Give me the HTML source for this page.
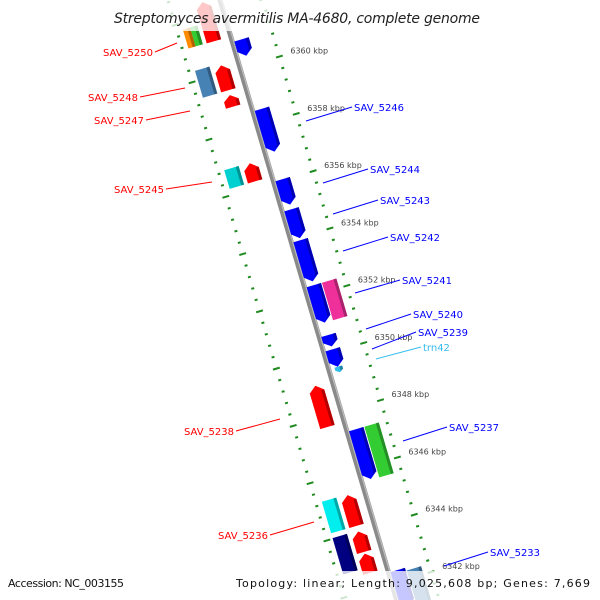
<!DOCTYPE html>
<html><head><meta charset="utf-8"><style>
html,body{margin:0;padding:0;background:#fff;width:600px;height:600px;overflow:hidden;}
svg{display:block;font-family:"DejaVu Sans","Liberation Sans",sans-serif;overflow:hidden;}
</style></head><body>
<svg id="map" width="600" height="600" viewBox="0 0 600 600" xmlns="http://www.w3.org/2000/svg">
<defs><clipPath id="clip"><rect x="0" y="0" width="600" height="600"/></clipPath></defs>
<rect width="600" height="600" fill="#fff"/>
<g clip-path="url(#clip)">
<g id="rot" transform="translate(220,0) rotate(-16.4)"></g>
</g>
<g id="labels"></g>
<rect x="0" y="0" width="600" height="31" fill="#fff" opacity="0.78"/>
<text x="297" y="23" text-anchor="middle" font-size="14" font-style="italic" fill="#222" textLength="366">Streptomyces avermitilis MA-4680, complete genome</text>
<rect x="0" y="571" width="600" height="29" fill="#fff" opacity="0.78"/>
<text x="8" y="587" font-size="11" fill="#111" textLength="116">Accession: NC_003155</text>
<text x="590" y="587" text-anchor="end" font-size="11" fill="#111" textLength="354">Topology: linear; Length: 9,025,608 bp; Genes: 7,669</text>
</svg>
<script>
// feature data (kbp)
const featStart = [6360.91,6358.49,6356.03,6354.98,6353.90,6352.33,6350.59,6350.09,6349.48,6347.30,6342.38,6352.33,6347.30,6342.28,6362.48,6360.27,6359.23,6356.85,6349.08,6345.26,6343.99,6343.22,6361.78,6361.78,6360.34,6356.87,6345.29,6344.02];
const featEnd   = [6360.34,6356.99,6355.14,6353.97,6352.46,6351.02,6350.19,6349.48,6349.28,6345.56,6341.11,6351.02,6345.53,6341.11,6361.11,6359.40,6358.83,6356.22,6347.64,6344.19,6343.28,6342.55,6361.12,6361.12,6359.40,6356.22,6344.19,6342.75];
const featTrack = ["ri","ri","ri","ri","ri","ri","ri","ri","ri","ri","ri","ro","ro","ro","li","li","li","li","li","li","li","li","lo1","lo2","lo","lo","lo","lo"];
const featColor = ["#0000ff","#0000ff","#0000ff","#0000ff","#0000ff","#0000ff","#0000ff","#0000ff","#33bbee","#0000ff","#0000ff","#f0309a","#33cc33","#4682b4","#ff0000","#ff0000","#ff0000","#ff0000","#ff0000","#ff0000","#ff0000","#ff0000","#ff8c00","#33cc33","#4682b4","#00d0d0","#00eeee","#000080"];
const featShape = [1,1,1,1,1,1,1,1,1,1,1,0,0,0,-1,-1,-1,-1,-1,-1,-1,-1,0,0,0,0,0,0];
const tickStart10 = 63400, tickEnd10 = 63630;

const U_PER_KBP = 29.85, KBP_AT_U0 = 6362.38;
const TRACKS = {ri:[2,17], ro:[18,33], li:[-25,-10], lo:[-44,-29], lo1:[-44,-36.5], lo2:[-36.5,-29]};
const RIGHT_V = 41, LEFT_V = -50;
const DX = Math.sin(16.4*Math.PI/180), DY = Math.cos(16.4*Math.PI/180);
function uOf(k){ return (KBP_AT_U0 - k) * U_PER_KBP; }
function scr(u,v){ return [220 + u*DX + v*DY, u*DY - v*DX]; }
function shade(hex,f){ const n=parseInt(hex.slice(1),16); const r=Math.round(((n>>16)&255)*f),g=Math.round(((n>>8)&255)*f),b=Math.round((n&255)*f); return `rgb(${r},${g},${b})`; }
const NS="http://www.w3.org/2000/svg";
const rot=document.getElementById('rot'), lab=document.getElementById('labels');
function mk(tag,attrs,parent){ const e=document.createElementNS(NS,tag); for(const k in attrs) e.setAttribute(k,attrs[k]); parent.appendChild(e); return e; }

// backbone
let bb=mk('line',{x1:0,y1:-20,x2:0,y2:640,stroke:'#8a8a8a','stroke-width':5},rot);


let bb2=mk('line',{x1:1.5,y1:-20,x2:1.5,y2:640,stroke:'#bdbdbd','stroke-width':1.2},rot);



// ticks
for(let k10=tickStart10;k10<=tickEnd10;k10+=4){
  const u=uOf(k10/10), major=(k10%20===0);
  if(u>640) continue;
  const len=major?7:3;
  [RIGHT_V,LEFT_V].forEach((v,i)=>{
    const t=mk('rect',{x:v-len/2,y:u-1,width:len,height:2,fill:'#1f8a1f'},rot);
    
    
  });
  if(major){
    const p=scr(u,RIGHT_V);
    if(p[1]<600){
      const tx=mk('text',{x:p[0]+11,y:p[1]-3,'font-size':8,fill:'#444'},lab);
      tx.textContent=(k10/10)+' kbp';
      
      
    }
  }
}

// features
for(let i=0;i<featStart.length;i++){
  let u1=uOf(featStart[i]), u2=uOf(featEnd[i]); if(u1>u2){const t=u1;u1=u2;u2=t;}
  let [v1,v2]=TRACKS[featTrack[i]]; const c=featColor[i], s=featShape[i];
  if(i===8){ v1=6; v2=14; }
  const h=Math.min(6,(u2-u1)*0.45), vm=(v1+v2)/2;
  let pts, side;
  if(s===1){ pts=[[v1,u1],[v2,u1],[v2,u2-h],[vm,u2],[v1,u2-h]]; side=[[v2-3,u1],[v2,u1],[v2,u2-h],[vm+1.5,u2-h*0.5],[v2-3,u2-h]]; }
  else if(s===-1){ pts=[[vm,u1],[v2,u1+h],[v2,u2],[v1,u2],[v1,u1+h]]; side=[[v2-3,u1+h],[v2,u1+h],[v2,u2],[v2-3,u2]]; }
  else { pts=[[v1,u1],[v2,u1],[v2,u2],[v1,u2]]; side=[[v2-3,u1],[v2,u1],[v2,u2],[v2-3,u2]]; }
  const g=mk('g',{},rot);
  
  
  mk('polygon',{points:pts.map(p=>p.join(',')).join(' '),fill:c},g);
  mk('polygon',{points:side.map(p=>p.join(',')).join(' '),fill:shade(c,0.7)},g);
}

// labels
const labelNames=["SAV_5250","SAV_5248","SAV_5247","SAV_5245","SAV_5238","SAV_5236","SAV_5246","SAV_5244","SAV_5243","SAV_5242","SAV_5241","SAV_5240","SAV_5239","trn42","SAV_5237","SAV_5233"];
const labelColor=["#ff0000","#ff0000","#ff0000","#ff0000","#ff0000","#ff0000","#0000ff","#0000ff","#0000ff","#0000ff","#0000ff","#0000ff","#0000ff","#33bbee","#0000ff","#0000ff"];
const labelLines=[[155,52,177,43],[140,97,185,88],[146,120,190,111],[166,189,212,182],[236,431,280,419],[270,535,314,522],[306,121,352,107],[323,183,368,169],[333,214,378,200],[343,251,388,237],[355,293,400,280],[366,329,411,314],[372,349,416,332],[376,359,421,347],[403,441,447,427],[444,566,488,552]];
for(let i=0;i<labelNames.length;i++){
  const L=labelLines[i], left=i<6;
  const ln=mk('line',{x1:L[0],y1:L[1],x2:L[2],y2:L[3],stroke:labelColor[i],'stroke-width':1},lab);
  
  
  const t=mk('text',{x:left?L[0]-2:L[2]+2,y:(left?L[1]:L[3])+4,'font-size':10,fill:labelColor[i],'text-anchor':left?'end':'start'},lab);
  t.textContent=labelNames[i];
  
  
}
</script>
</body></html>
